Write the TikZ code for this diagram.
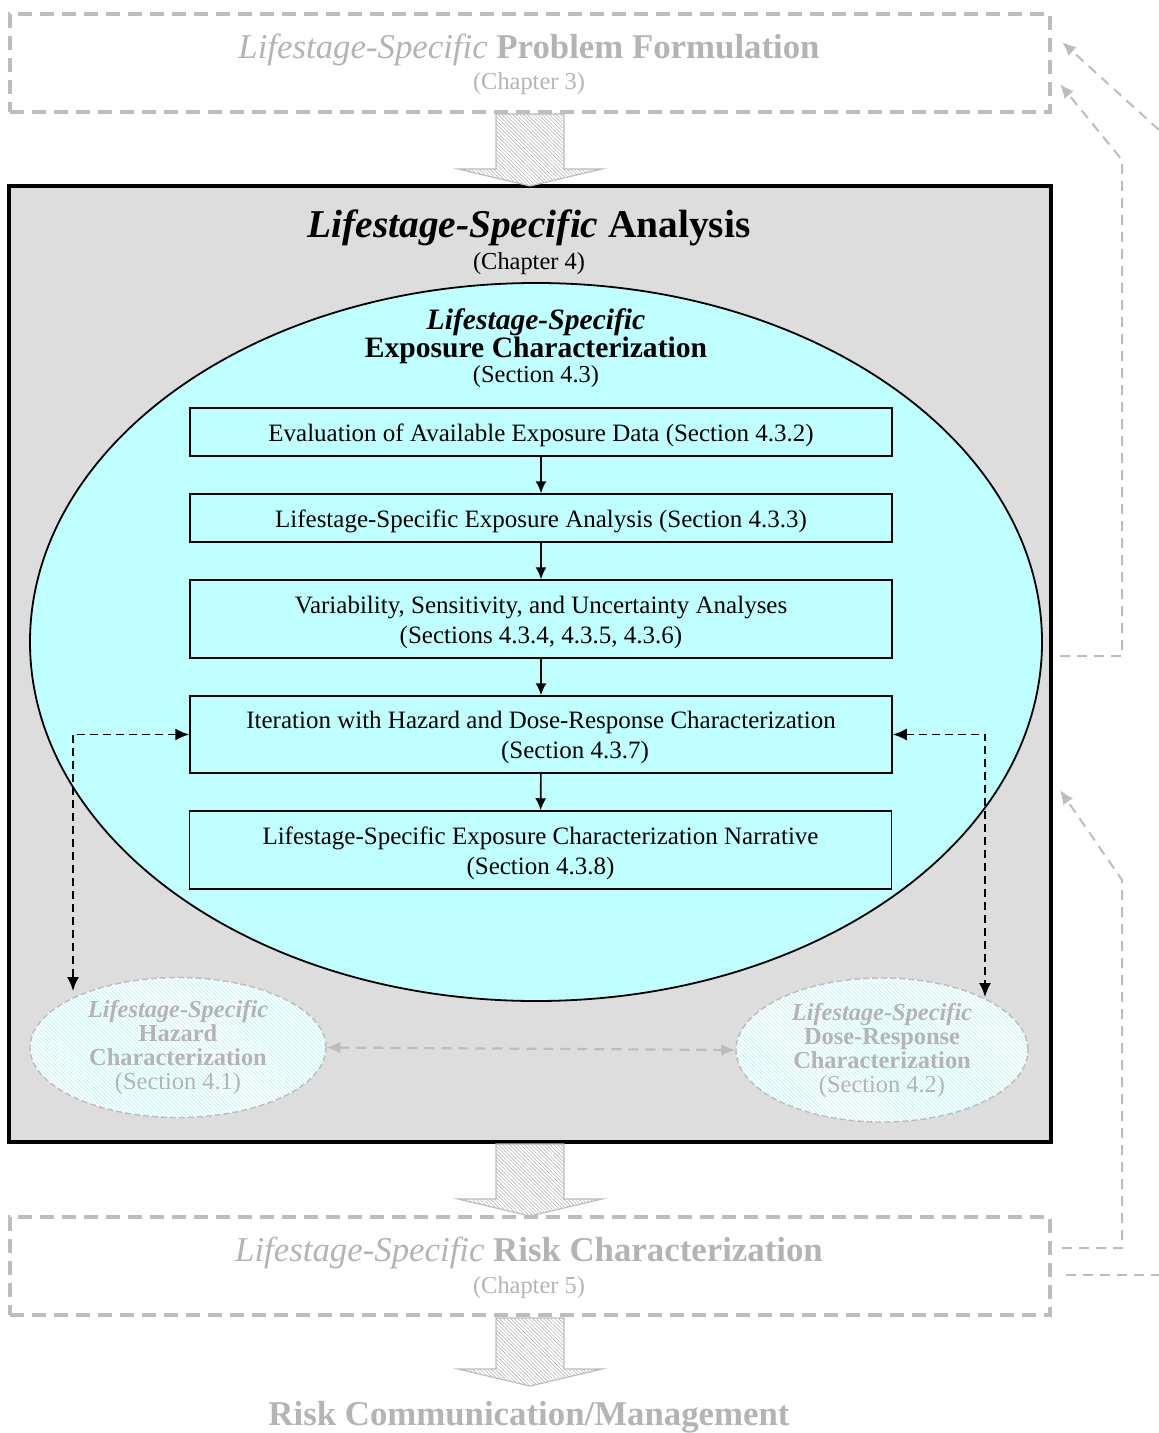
\documentclass[tikz,border=0pt]{standalone}
\usepackage{fontspec}
\setmainfont{Liberation Serif}
\usetikzlibrary{arrows.meta,patterns.meta,shapes.geometric,calc}
\definecolor{gtext}{HTML}{B4B4B4}
\definecolor{gline}{HTML}{BDBDBD}
\definecolor{boxgray}{HTML}{DDDDDD}
\definecolor{cyanfill}{HTML}{BFFFFF}
\definecolor{hatchcyan}{HTML}{C4F6F6}
\newcommand\hatchdown[3]{%
  \path[hatcharrow] (#1-34,#2) -- (#1+34,#2) -- (#1+34,#3-17) -- (#1+72,#3-17) -- (#1,#3) -- (#1-72,#3-17) -- (#1-34,#3-17) -- cycle;}
\tikzset{
  fs/.style={font=\fontsize{12.2}{15}\selectfont},
  fb/.style={font=\fontsize{12.5}{15}\selectfont, align=center},
  dbox/.style={draw=gline, line width=1.7pt, dash pattern=on 7pt off 4pt, rectangle, minimum width=520pt, minimum height=49pt},
  bigbox/.style={draw=black, line width=1.7pt, fill=boxgray, rectangle, minimum width=521pt, minimum height=478pt},
  expoell/.style={ellipse, draw=black, line width=0.9pt, fill=cyanfill, minimum width=506pt, minimum height=359pt, inner sep=0pt},
  stepbox/.style={draw=black, line width=0.75pt, fill=cyanfill, rectangle, minimum width=351pt},
  flow/.style={-{Latex[length=6pt,width=5.5pt]}, line width=0.8pt},
  blkdash/.style={line width=0.9pt, dash pattern=on 4pt off 2.5pt, {Latex[length=7pt,width=6pt]}-{Latex[length=7pt,width=6pt]}},
  grayconn/.style={draw=gline, line width=1pt, dash pattern=on 5pt off 3.5pt, -{Latex[length=7pt,width=6pt]}},
  sideell/.style={ellipse, draw=gline, line width=0.7pt, dash pattern=on 3pt off 1.5pt, preaction={fill=white}, pattern={Lines[angle=-45,distance=1.4pt,line width=0.45pt]}, pattern color=hatchcyan, inner sep=0pt, align=center, text=gtext, font=\fontsize{12.2}{12}\selectfont},
  hatcharrow/.style={preaction={fill=white}, pattern={Lines[angle=-45,distance=1.3pt,line width=0.3pt]}, pattern color=gray!55, draw=gline, line width=0.6pt},
  gtitle/.style={text=gtext, font=\fontsize{17.4}{20}\selectfont},
}
\begin{document}
\begin{tikzpicture}[x=0.5pt,y=-0.5pt]
\useasboundingbox (0,0) rectangle (1159,1433);

% top box
\node[dbox] (pf) at (530,63) {};
\node[gtitle] (pft) at (529,50) {\textit{Lifestage-Specific} \textbf{Problem Formulation}};
\node[fs, text=gtext] (pfc) at (529,84) {(Chapter 3)};

% main analysis box
\node[bigbox] (an) at (530,664) {};
\hatchdown{530}{114}{186}
\node[font=\fontsize{19.7}{22}\selectfont\bfseries] (ant) at (529,228) {\textit{Lifestage-Specific} Analysis};
\node[fs] (anc) at (529,264) {(Chapter 4)};

% exposure ellipse
\node[expoell] (ex) at (536,642) {};
\node[font=\fontsize{14.8}{16}\selectfont\bfseries\itshape] (ext1) at (536,322) {Lifestage-Specific};
\node[font=\fontsize{14.8}{16}\selectfont\bfseries] (ext2) at (536,350) {Exposure Characterization};
\node[fs] (ext3) at (536,377) {(Section 4.3)};

% steps
\node[stepbox, minimum height=24pt] (b1) at (541,432) {};
\node[fb] (b1t) at (541,435) {Evaluation of Available Exposure Data (Section 4.3.2)};
\node[stepbox, minimum height=24pt] (b2) at (541,518) {};
\node[fb] (b2t) at (541,521) {Lifestage-Specific Exposure Analysis (Section 4.3.3)};
\node[stepbox, minimum height=39pt] (b3) at (541,619) {};
\node[fb] (b3t) at (541,622) {Variability, Sensitivity, and Uncertainty Analyses\\(Sections 4.3.4, 4.3.5, 4.3.6)};
\node[stepbox, minimum height=38.5pt] (b4) at (541,734.5) {};
\node[fb] (b4t) at (541,737.5) {Iteration with Hazard and Dose-Response Characterization\\\hspace*{34pt}(Section 4.3.7)};
\node[stepbox, minimum height=39pt] (b5) at (540.5,850) {};
\node[fb] (b5t) at (540.5,853) {Lifestage-Specific Exposure Characterization Narrative\\(Section 4.3.8)};
\draw[flow] (b1) -- (b2);
\draw[flow] (b2) -- (b3);
\draw[flow] (b3) -- (b4);
\draw[flow] (b4) -- (b5);

% side ellipses
\node[sideell, minimum width=148pt, minimum height=70pt] (hz) at (178,1047.5) {\textbf{\textit{Lifestage-Specific}}\\\textbf{Hazard}\\\textbf{Characterization}\\(Section 4.1)};
\node[sideell, minimum width=146pt, minimum height=72pt] (dr) at (882,1050) {\textbf{\textit{Lifestage-Specific}}\\\textbf{Dose-Response}\\\textbf{Characterization}\\(Section 4.2)};
\draw[grayconn, line width=1.1pt, {Latex[length=7pt,width=6pt]}-{Latex[length=7pt,width=6pt]}] (hz.east) -- (dr.west);

\coordinate (hzin) at (73,991);
\coordinate (drin) at (985,997);
\draw[blkdash] (b4.west) -- (b4.west -| hzin) -- (hzin);
\draw[blkdash] (b4.east) -- (b4.east -| drin) -- (drin);

% risk characterization
\hatchdown{530}{1144}{1216}
\node[dbox] (rc) at (530,1266) {};
\node[gtitle] (rct) at (529,1253) {\textit{Lifestage-Specific} \textbf{Risk Characterization}};
\node[fs, text=gtext] (rcc) at (529,1288) {(Chapter 5)};

\hatchdown{530}{1318}{1386}
\node[gtitle, font=\fontsize{17.4}{20}\selectfont\bfseries] (rm) at (529,1417) {Risk Communication/Management};

% feedback lines on the right
\coordinate (o1) at (1060,656);
\coordinate (t1) at (1060,84);
\draw[grayconn] (o1) -- (1122,656) -- (1122,160) -- (t1);
\coordinate (o2) at (1159,130);
\coordinate (t2) at (1062,42);
\draw[grayconn] (o2) -- (t2);
\coordinate (o3) at (1062,1248);
\coordinate (t3) at (1060,790);
\draw[grayconn] (o3) -- (1122,1248) -- (1122,880) -- (t3);
\coordinate (o4) at (1066,1275);
\coordinate (e4) at (1159,1275);
\draw[grayconn, -] (o4) -- (e4);
\end{tikzpicture}
\end{document}
